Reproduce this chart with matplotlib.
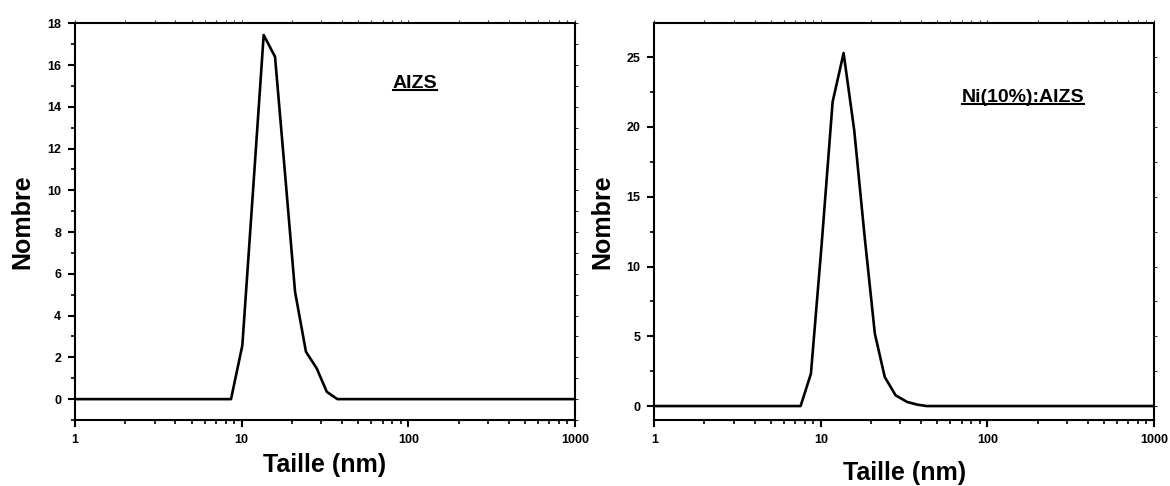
import matplotlib
matplotlib.use('Agg')
import matplotlib.pyplot as plt
from matplotlib.ticker import FixedLocator, FixedFormatter, LogLocator, MultipleLocator, NullFormatter
from matplotlib.lines import Line2D

# ============ 数据 ============
size_aizs = [1, 8.63, 10.09, 11.7, 13.55, 15.85, 18.2, 20.9, 24.3, 28.2, 32.4, 37.5, 1000]
count_aizs = [0, 0, 2.57, 10.0, 17.44, 16.4, 10.8, 5.14, 2.27, 1.47, 0.35, 0, 0]

size_ni = [1, 7.56, 8.72, 10.1, 11.77, 13.7, 15.86, 18.3, 21.1, 24.2, 28.1, 33.0, 38.0, 43.2, 1000]
count_ni = [0, 0, 2.32, 11.5, 21.8, 25.3, 19.78, 12.2, 5.19, 2.08, 0.77, 0.29, 0.1, 0, 0]

x_ticks = [1, 10, 100, 1000]
x_labels = ["1", "10", "100", "1000"]

plt.rcParams['font.family'] = ['Liberation Sans', 'DejaVu Sans']
plt.rcParams['font.weight'] = 'bold'

fig = plt.figure(figsize=(11.7, 4.86), dpi=100)
ax1 = fig.add_axes([0.0641, 0.1358, 0.4274, 0.8162])
ax2 = fig.add_axes([0.5592, 0.1358, 0.4271, 0.8162])


def style_axes(ax, ymin, ymax, ymajor, yminor):
    ax.set_xscale('log')
    ax.set_xlim(1, 1000)
    ax.set_ylim(ymin, ymax)
    ax.xaxis.set_major_locator(FixedLocator(x_ticks))
    ax.xaxis.set_major_formatter(FixedFormatter(x_labels))
    ax.xaxis.set_minor_locator(LogLocator(base=10, subs=range(2, 10)))
    ax.xaxis.set_minor_formatter(NullFormatter())
    ax.yaxis.set_major_locator(MultipleLocator(ymajor))
    ax.yaxis.set_minor_locator(MultipleLocator(yminor))
    for sp in ax.spines.values():
        sp.set_linewidth(1.5)
    ax.tick_params(which='major', direction='out', length=5, width=1.5,
                   labelsize=9, pad=5)
    ax.tick_params(which='minor', direction='out', length=3, width=1.2)
    ax.tick_params(which='both', top=True, right=True)
    for t in ax.get_xticklabels() + ax.get_yticklabels():
        t.set_fontweight('bold')
    # 上/右边的刻度很短很淡
    for tick in ax.xaxis.get_major_ticks() + ax.xaxis.get_minor_ticks():
        tick.tick2line.set_markersize(2)
        tick.tick2line.set_markeredgewidth(0.6)
    for tick in ax.yaxis.get_major_ticks() + ax.yaxis.get_minor_ticks():
        tick.tick2line.set_markersize(2)
        tick.tick2line.set_markeredgewidth(0.6)


ax1.plot(size_aizs, count_aizs, color='black', linewidth=1.9)
style_axes(ax1, -1, 18, 2, 1)
ax1.set_xlabel('Taille (nm)', fontsize=18, fontweight='bold', labelpad=5)
ax1.set_ylabel('Nombre', fontsize=18, fontweight='bold', labelpad=9)

ax2.plot(size_ni, count_ni, color='black', linewidth=1.9)
style_axes(ax2, -1, 27.43, 5, 2.5)
ax2.set_xlabel('Taille (nm)', fontsize=18, fontweight='bold', labelpad=11)
ax2.set_ylabel('Nombre', fontsize=18, fontweight='bold', labelpad=9)

# 标注（带下划线）
lab1 = fig.text(415 / 1170, 1 - 84 / 486, 'AIZS', fontsize=14, fontweight='bold',
                ha='center', va='center')
lab2 = fig.text(1023 / 1170, 1 - 98 / 486, 'Ni(10%):AIZS', fontsize=14, fontweight='bold',
                ha='center', va='center')

fig.canvas.draw()
inv = fig.transFigure.inverted()
for lab in (lab1, lab2):
    bb = lab.get_window_extent().transformed(inv)
    yline = bb.y0 + 2.0 / 486
    fig.add_artist(Line2D([bb.x0, bb.x1], [yline, yline], transform=fig.transFigure,
                          color='black', linewidth=1.5))

plt.savefig('out.png', dpi=100)
plt.close()
